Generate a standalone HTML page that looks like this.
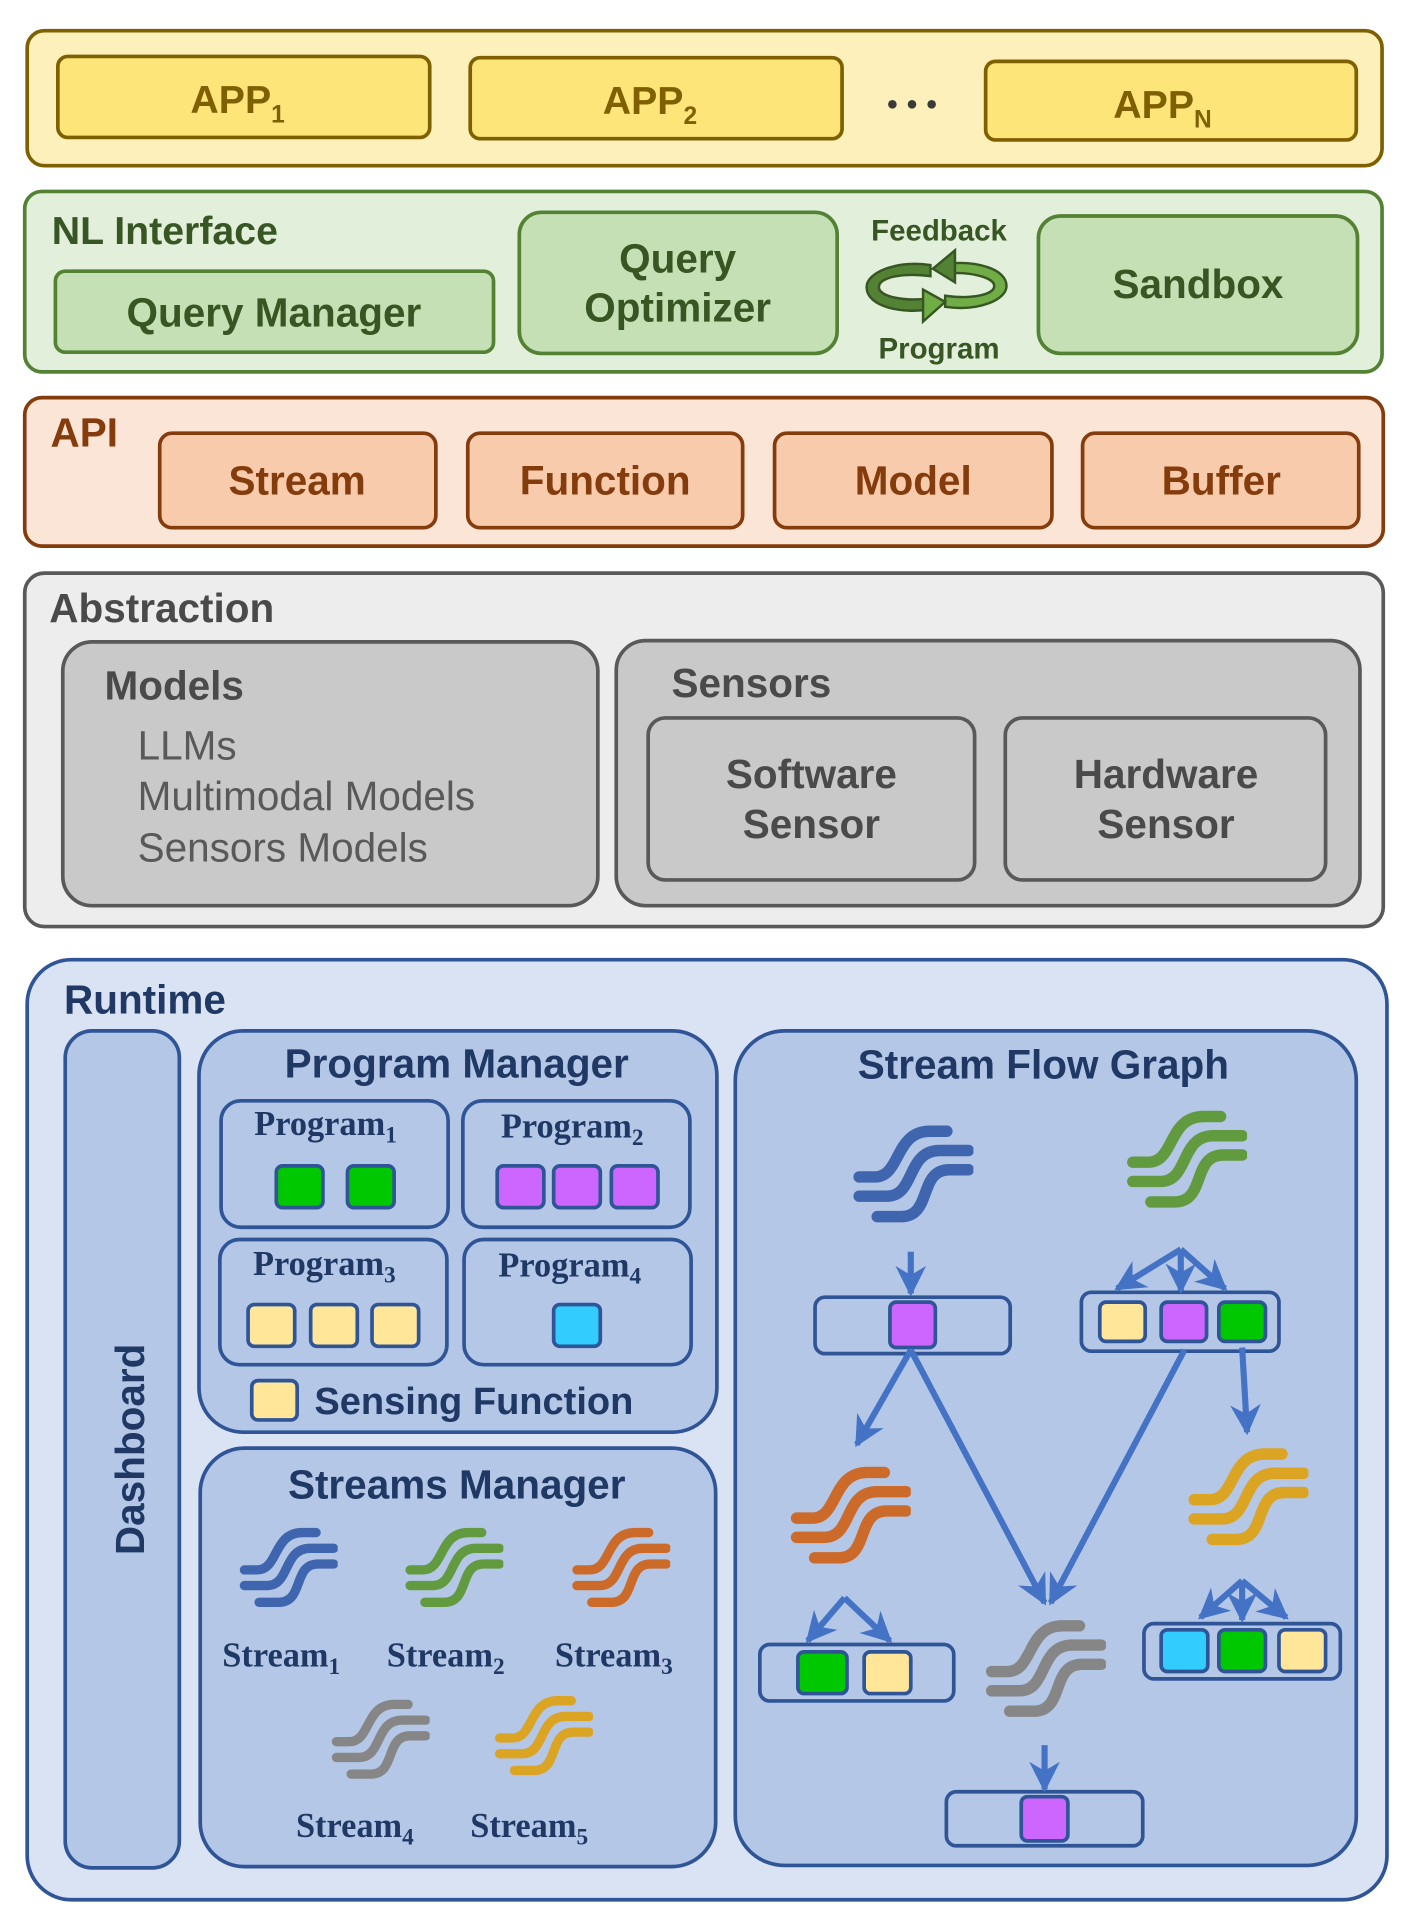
<!DOCTYPE html>
<html><head><meta charset="utf-8"><style>
html,body{margin:0;padding:0;background:#fff}
svg{display:block}
text{font-family:"Liberation Sans","DejaVu Sans",sans-serif;font-weight:bold}
.sf text{font-family:"Liberation Serif",serif;font-weight:bold;fill:#1f3864}
</style></head><body>
<svg width="1408" height="1928" viewBox="0 0 1147 1571" xmlns="http://www.w3.org/2000/svg">
<defs>
<symbol id="s" viewBox="0 0 100 90">
<g fill="none" stroke="currentColor" stroke-width="9.5" stroke-linecap="round">
<path d="M5 44 H18 C40 44 34 6 64 6 H78"/>
<path d="M5 60 H28 C52 60 44 22 72 22 H96"/>
<path d="M20 77 H40 C66 77 54 38 80 38 H96"/>
</g></symbol>
<marker id="ah" viewBox="0 0 10 10" refX="9" refY="5" markerWidth="5" markerHeight="5" orient="auto-start-reverse" markerUnits="strokeWidth"><path d="M0 0 L10 5 L0 10 L3 5 z" fill="#4472c4"/></marker>
</defs>

<!-- APP layer -->
<rect x="22" y="25" width="1104" height="110" rx="14" fill="#fdf0bb" stroke="#7f6000" stroke-width="3"/>
<g fill="#fde57a" stroke="#7f6000" stroke-width="3">
<rect x="47" y="46" width="303" height="66" rx="8"/>
<rect x="383" y="47" width="303" height="66" rx="8"/>
<rect x="803" y="50" width="302" height="64" rx="8"/>
</g>
<g fill="#7f6000" font-size="32">
<text x="155" y="92">APP<tspan font-size="20" dy="8">1</tspan></text>
<text x="491" y="93">APP<tspan font-size="20" dy="8">2</tspan></text>
<text x="907" y="96">APP<tspan font-size="20" dy="8">N</tspan></text>
</g>
<g fill="#3a3a3a"><circle cx="727" cy="85" r="3.5"/><circle cx="743" cy="85" r="3.5"/><circle cx="759" cy="85" r="3.5"/></g>

<!-- NL Interface -->
<rect x="20" y="156" width="1106" height="147" rx="14" fill="#e2efda" stroke="#548235" stroke-width="3"/>
<g fill="#c5e0b4" stroke="#548235" stroke-width="3">
<rect x="45" y="221" width="357" height="66" rx="8"/>
<rect x="423" y="173" width="259" height="115" rx="18"/>
<rect x="846" y="176" width="260" height="112" rx="18"/>
</g>
<g fill="#375623">
<text x="42" y="199" font-size="32">NL Interface</text>
<text x="223" y="266" font-size="33" text-anchor="middle">Query Manager</text>
<text x="552" y="222" font-size="33" text-anchor="middle">Query</text>
<text x="552" y="262" font-size="33" text-anchor="middle">Optimizer</text>
<text x="976" y="243" font-size="33" text-anchor="middle">Sandbox</text>
<text x="765" y="196" font-size="24" text-anchor="middle">Feedback</text>
<text x="765" y="292" font-size="24" text-anchor="middle">Program</text>
</g>
<!-- cycle icon -->
<g stroke="#375623" stroke-width="2">
<path d="M758 216 C730 212 706 222 706 234 C706 250 735 256 758 252 L758 243 C738 246 716 242 716 234 C716 226 735 222 758 225 Z" fill="#548235"/>
<path d="M770 250 C798 254 820 244 820 233 C820 219 795 212 770 215 L770 223 C790 221 810 226 810 233 C810 240 792 244 770 241 Z" fill="#70ad47"/>
<path d="M752 236 L770 246 L752 262 Z" fill="#70ad47"/>
<path d="M778 204 L760 219 L778 230 Z" fill="#548235"/>
</g>

<!-- API -->
<rect x="20" y="324" width="1107" height="121" rx="14" fill="#fbe5d6" stroke="#843c0c" stroke-width="3"/>
<g fill="#f8cbad" stroke="#843c0c" stroke-width="3">
<rect x="130" y="353" width="225" height="77" rx="10"/>
<rect x="381" y="353" width="224" height="77" rx="10"/>
<rect x="631" y="353" width="226" height="77" rx="10"/>
<rect x="882" y="353" width="225" height="77" rx="10"/>
</g>
<g fill="#843c0c" font-size="33">
<text x="41" y="364">API</text>
<text x="242" y="403" text-anchor="middle">Stream</text>
<text x="493" y="403" text-anchor="middle">Function</text>
<text x="744" y="403" text-anchor="middle">Model</text>
<text x="995" y="403" text-anchor="middle">Buffer</text>
</g>

<!-- Abstraction -->
<rect x="20" y="467" width="1107" height="288" rx="16" fill="#ededed" stroke="#595959" stroke-width="3"/>
<g fill="#c9c9c9" stroke="#595959" stroke-width="3">
<rect x="51" y="523" width="436" height="215" rx="24"/>
<rect x="502" y="522" width="606" height="216" rx="24"/>
<rect x="528" y="585" width="266" height="132" rx="14"/>
<rect x="819" y="585" width="261" height="132" rx="14"/>
</g>
<g fill="#4a4a4a" font-size="33">
<text x="40" y="507">Abstraction</text>
<text x="85" y="570">Models</text>
<text x="547" y="568">Sensors</text>
<text x="661" y="642" text-anchor="middle">Software</text>
<text x="661" y="683" text-anchor="middle">Sensor</text>
<text x="950" y="642" text-anchor="middle">Hardware</text>
<text x="950" y="683" text-anchor="middle">Sensor</text>
</g>
<g fill="#595959" font-size="33">
<text x="112" y="619" style="font-weight:normal">LLMs</text>
<text x="112" y="660" style="font-weight:normal">Multimodal Models</text>
<text x="112" y="702" style="font-weight:normal">Sensors Models</text>
</g>

<!-- Runtime -->
<rect x="22" y="782" width="1108" height="766" rx="36" fill="#dae3f3" stroke="#2f5597" stroke-width="3"/>
<g fill="#b4c7e7" stroke="#2f5597" stroke-width="3">
<rect x="53" y="840" width="93" height="682" rx="22"/>
<rect x="162" y="840" width="422" height="327" rx="36"/>
<rect x="163" y="1180" width="420" height="341" rx="36"/>
<rect x="599" y="840" width="506" height="680" rx="40"/>
<rect x="180" y="897" width="185" height="103" rx="16"/>
<rect x="377" y="897" width="185" height="103" rx="16"/>
<rect x="179" y="1010" width="185" height="102" rx="16"/>
<rect x="378" y="1010" width="185" height="102" rx="16"/>
<rect x="664" y="1057" width="159" height="46" rx="8"/>
<rect x="881" y="1053" width="161" height="48" rx="8"/>
<rect x="619" y="1340" width="158" height="46" rx="8"/>
<rect x="932" y="1323" width="160" height="45" rx="8"/>
<rect x="771" y="1460" width="160" height="44" rx="8"/>
</g>
<g fill="#1f3864" font-size="33">
<text x="52" y="826">Runtime</text>
<text x="372" y="878" text-anchor="middle">Program Manager</text>
<text x="372" y="1221" text-anchor="middle">Streams Manager</text>
<text x="850" y="879" text-anchor="middle">Stream Flow Graph</text>
<text x="256" y="1152" font-size="31">Sensing Function</text>
<text transform="translate(117 1181) rotate(-90)" text-anchor="middle" font-size="33">Dashboard</text>
</g>
<g class="sf" font-size="28">
<text x="207" y="925">Program<tspan font-size="19" dy="6">1</tspan></text>
<text x="408" y="927">Program<tspan font-size="19" dy="6">2</tspan></text>
<text x="206" y="1039">Program<tspan font-size="19" dy="6">3</tspan></text>
<text x="406" y="1040">Program<tspan font-size="19" dy="6">4</tspan></text>
<text x="181" y="1358">Stream<tspan font-size="19" dy="6">1</tspan></text>
<text x="315" y="1358">Stream<tspan font-size="19" dy="6">2</tspan></text>
<text x="452" y="1358">Stream<tspan font-size="19" dy="6">3</tspan></text>
<text x="241" y="1497">Stream<tspan font-size="19" dy="6">4</tspan></text>
<text x="383" y="1497">Stream<tspan font-size="19" dy="6">5</tspan></text>
</g>
<!-- squares -->
<g stroke="#2f5597" stroke-width="3">
<g fill="#00c800"><rect x="225" y="950" width="38" height="34" rx="5"/><rect x="283" y="950" width="38" height="34" rx="5"/>
<rect x="993" y="1061" width="38" height="32" rx="5"/><rect x="650" y="1346" width="40" height="34" rx="5"/><rect x="993" y="1328" width="38" height="34" rx="5"/></g>
<g fill="#cc66ff"><rect x="405" y="950" width="38" height="34" rx="5"/><rect x="451" y="950" width="38" height="34" rx="5"/><rect x="498" y="950" width="38" height="34" rx="5"/>
<rect x="725" y="1061" width="37" height="37" rx="5"/><rect x="946" y="1061" width="37" height="32" rx="5"/><rect x="832" y="1464" width="38" height="36" rx="5"/></g>
<g fill="#ffe699"><rect x="202" y="1063" width="38" height="34" rx="5"/><rect x="253" y="1063" width="38" height="34" rx="5"/><rect x="303" y="1063" width="38" height="34" rx="5"/>
<rect x="205" y="1125" width="37" height="32" rx="5"/><rect x="896" y="1061" width="37" height="32" rx="5"/><rect x="704" y="1346" width="38" height="34" rx="5"/><rect x="1042" y="1328" width="38" height="34" rx="5"/></g>
<g fill="#33ccff"><rect x="451" y="1063" width="38" height="34" rx="5"/><rect x="946" y="1328" width="38" height="34" rx="5"/></g>
</g>
<!-- stream icons -->
<use href="#s" x="695" y="915" width="98" height="90" color="#3e65ad"/>
<use href="#s" x="918" y="903" width="98" height="90" color="#629a40"/>
<use href="#s" x="644" y="1193" width="98" height="90" color="#cc6a2a"/>
<use href="#s" x="968" y="1178" width="98" height="90" color="#dba423"/>
<use href="#s" x="803" y="1318" width="98" height="90" color="#868686"/>
<use href="#s" x="195" y="1243" width="80" height="74" color="#3e65ad"/>
<use href="#s" x="330" y="1243" width="80" height="74" color="#629a40"/>
<use href="#s" x="466" y="1243" width="80" height="74" color="#cc6a2a"/>
<use href="#s" x="270" y="1383" width="80" height="74" color="#868686"/>
<use href="#s" x="403" y="1380" width="80" height="74" color="#dba423"/>
<!-- arrows -->
<g stroke="#4472c4" stroke-width="5" fill="none" marker-end="url(#ah)">
<line x1="742" y1="1020" x2="742" y2="1054"/>
<line x1="742" y1="1100" x2="698" y2="1177"/>
<line x1="742" y1="1100" x2="851" y2="1306"/>
<line x1="965" y1="1100" x2="856" y2="1306"/>
<line x1="1012" y1="1098" x2="1016" y2="1167"/>
<line x1="962" y1="1018" x2="910" y2="1050"/>
<line x1="962" y1="1018" x2="962" y2="1052"/>
<line x1="962" y1="1018" x2="998" y2="1050"/>
<line x1="688" y1="1302" x2="658" y2="1337"/>
<line x1="688" y1="1302" x2="725" y2="1337"/>
<line x1="1012" y1="1288" x2="978" y2="1318"/>
<line x1="1012" y1="1288" x2="1012" y2="1320"/>
<line x1="1012" y1="1288" x2="1048" y2="1318"/>
<line x1="851" y1="1422" x2="851" y2="1458"/>
</g>
</svg>
</body></html>
